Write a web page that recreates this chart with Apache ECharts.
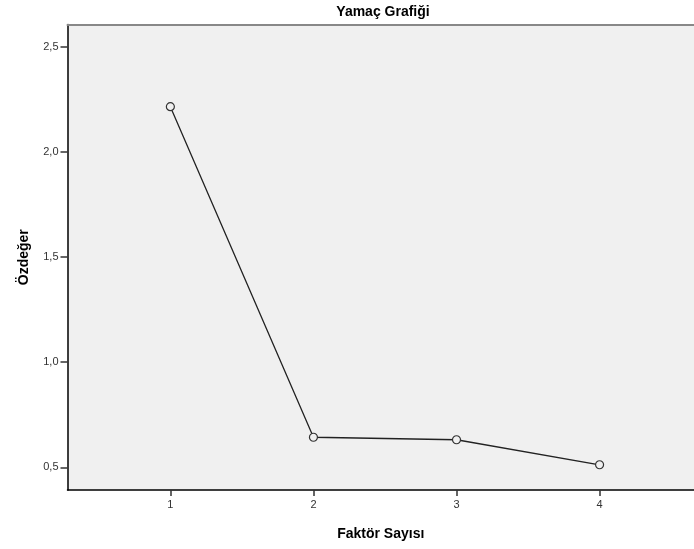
<!DOCTYPE html>
<html>
<head>
<meta charset="utf-8">
<script src="https://cdn.jsdelivr.net/npm/echarts@6/dist/echarts.min.js"></script>
<style>html,body{margin:0;padding:0;background:#fff}#c{width:694px;height:549px}</style>
</head>
<body>
<div id="c"></div>
<script>
var factors = [1, 2, 3, 4];
var eigenvalues = [2.215, 0.643, 0.631, 0.512];
var xTicks = [1, 2, 3, 4];
var yTicks = [0.5, 1.0, 1.5, 2.0, 2.5];

var chart = echarts.init(document.getElementById('c'));
var fmt = function (v) { return (Math.round(v * 10) / 10).toFixed(1).replace('.', ','); };
var font = '"Liberation Sans", Arial, sans-serif';
chart.setOption({
  animation: false,
  title: {
    text: 'Yamaç Grafiği', left: 378, top: 0, textAlign: 'center',
    textStyle: { fontFamily: font, fontSize: 14, fontWeight: 'bold', color: '#000' }
  },
  grid: {
    left: 67.5, top: 24.5, right: 0, bottom: 59,
    show: true, backgroundColor: '#f0f0f0', borderWidth: 0
  },
  xAxis: [{
    type: 'value', min: 0.281, max: 4.66,
    name: 'Faktör Sayısı', nameLocation: 'middle', nameGap: 37,
    nameTextStyle: { fontFamily: font, fontSize: 14, fontWeight: 'bold', color: '#000' },
    axisLine: { show: true, onZero: false, lineStyle: { color: '#000', width: 1.5 } },
    axisTick: { show: true, length: 6, customValues: xTicks, lineStyle: { color: '#333', width: 1.5 } },
    axisLabel: { customValues: xTicks, fontFamily: font, fontSize: 11, color: '#333', margin: 9, formatter: function (v) { return String(v); } },
    splitLine: { show: false }
  }, {
    type: 'value', position: 'top', min: 0.281, max: 4.66,
    axisLine: { show: true, lineStyle: { color: '#888', width: 2 } },
    axisTick: { show: false }, axisLabel: { show: false }, splitLine: { show: false }
  }],
  yAxis: {
    type: 'value', min: 0.392, max: 2.606,
    name: 'Özdeğer', nameLocation: 'middle', nameGap: 36, nameRotate: 90,
    nameTextStyle: { fontFamily: font, fontSize: 14, fontWeight: 'bold', color: '#000' },
    axisLine: { show: true, onZero: false, lineStyle: { color: '#000', width: 1.5 } },
    axisTick: { show: true, length: 7, customValues: yTicks, lineStyle: { color: '#333', width: 1.5 } },
    axisLabel: { customValues: yTicks, fontFamily: font, fontSize: 11, color: '#333', margin: 9, formatter: fmt },
    splitLine: { show: false }
  },
  series: [{
    type: 'line',
    data: factors.map(function (f, i) { return [f, eigenvalues[i]]; }),
    symbol: 'circle', symbolSize: 8,
    lineStyle: { color: '#222', width: 1.3 },
    itemStyle: { color: '#f0f0f0', borderColor: '#333', borderWidth: 1.2 },
    showSymbol: true
  }]
});
</script>
</body>
</html>
